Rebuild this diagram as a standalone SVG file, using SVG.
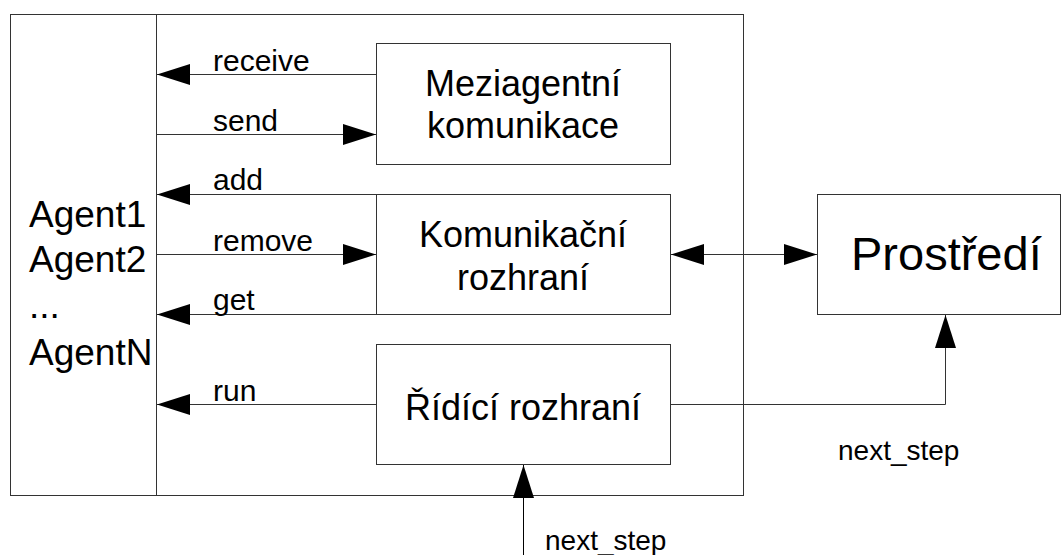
<svg xmlns="http://www.w3.org/2000/svg" width="1062" height="555" viewBox="0 0 1062 555">
<style>
.box{fill:#fff;stroke:#333;stroke-width:1}
.ln{fill:none;stroke:#333;stroke-width:1}
text{font-family:"Liberation Sans",Arial,sans-serif;fill:#000}
.lbl{font-size:30px}
.ns{font-size:28px}
.big{font-size:36px;text-anchor:middle}
.agent{font-size:37px}
</style>
<defs>
<marker id="ah" markerUnits="userSpaceOnUse" markerWidth="33" markerHeight="21" refX="33" refY="10.5" orient="auto-start-reverse">
<path d="M0,0 L33,10.5 L0,21 z" fill="#000"/>
</marker>
</defs>
<rect width="1062" height="555" fill="#fff"/>
<g id="system">
<rect class="box" x="10.5" y="14.5" width="733" height="481"/>
<line class="ln" x1="156.5" y1="14.5" x2="156.5" y2="495.5"/>
</g>
<g id="agents">
<text class="agent" x="29" y="227">Agent1</text>
<text class="agent" x="29" y="272">Agent2</text>
<text class="agent" x="29" y="318">...</text>
<text class="agent" x="29" y="365">AgentN</text>
</g>
<g id="meziagentni">
<rect class="box" x="376.5" y="43.5" width="294" height="121"/>
<text class="big" x="523" y="96">Meziagentní</text>
<text class="big" x="523" y="138">komunikace</text>
</g>
<g id="komunikacni">
<rect class="box" x="376.5" y="194.5" width="294" height="120"/>
<text class="big" x="523" y="247">Komunikační</text>
<text class="big" x="523" y="290">rozhraní</text>
</g>
<g id="ridici">
<rect class="box" x="376.5" y="344.5" width="294" height="120"/>
<text class="big" x="523" y="420">Řídící rozhraní</text>
</g>
<g id="prostredi">
<rect class="box" x="817.5" y="194.5" width="243" height="120"/>
<text x="851" y="270" style="font-size:47px">Prostředí</text>
</g>
<g id="connectors">
<line class="ln" x1="376" y1="74.5" x2="157" y2="74.5" marker-end="url(#ah)"/>
<line class="ln" x1="157" y1="134.5" x2="376" y2="134.5" marker-end="url(#ah)"/>
<line class="ln" x1="376" y1="194.5" x2="157" y2="194.5" marker-end="url(#ah)"/>
<line class="ln" x1="157" y1="254.5" x2="376" y2="254.5" marker-end="url(#ah)"/>
<line class="ln" x1="376" y1="314.5" x2="157" y2="314.5" marker-end="url(#ah)"/>
<line class="ln" x1="376" y1="404.5" x2="157" y2="404.5" marker-end="url(#ah)"/>
<line class="ln" x1="671" y1="254.5" x2="817" y2="254.5" marker-start="url(#ah)" marker-end="url(#ah)"/>
<path class="ln" d="M671 404.5 H945.5 V315" marker-end="url(#ah)"/>
<line class="ln" x1="523.5" y1="555" x2="523.5" y2="465" marker-end="url(#ah)" style="stroke:#000"/>
<text class="lbl" x="213" y="71">receive</text>
<text class="lbl" x="213" y="131">send</text>
<text class="lbl" x="213" y="190">add</text>
<text class="lbl" x="213" y="251">remove</text>
<text class="lbl" x="213" y="310">get</text>
<text class="lbl" x="213" y="401">run</text>
<text class="ns" x="838" y="460">next_step</text>
<text class="ns" x="545" y="550">next_step</text>
</g>
</svg>
